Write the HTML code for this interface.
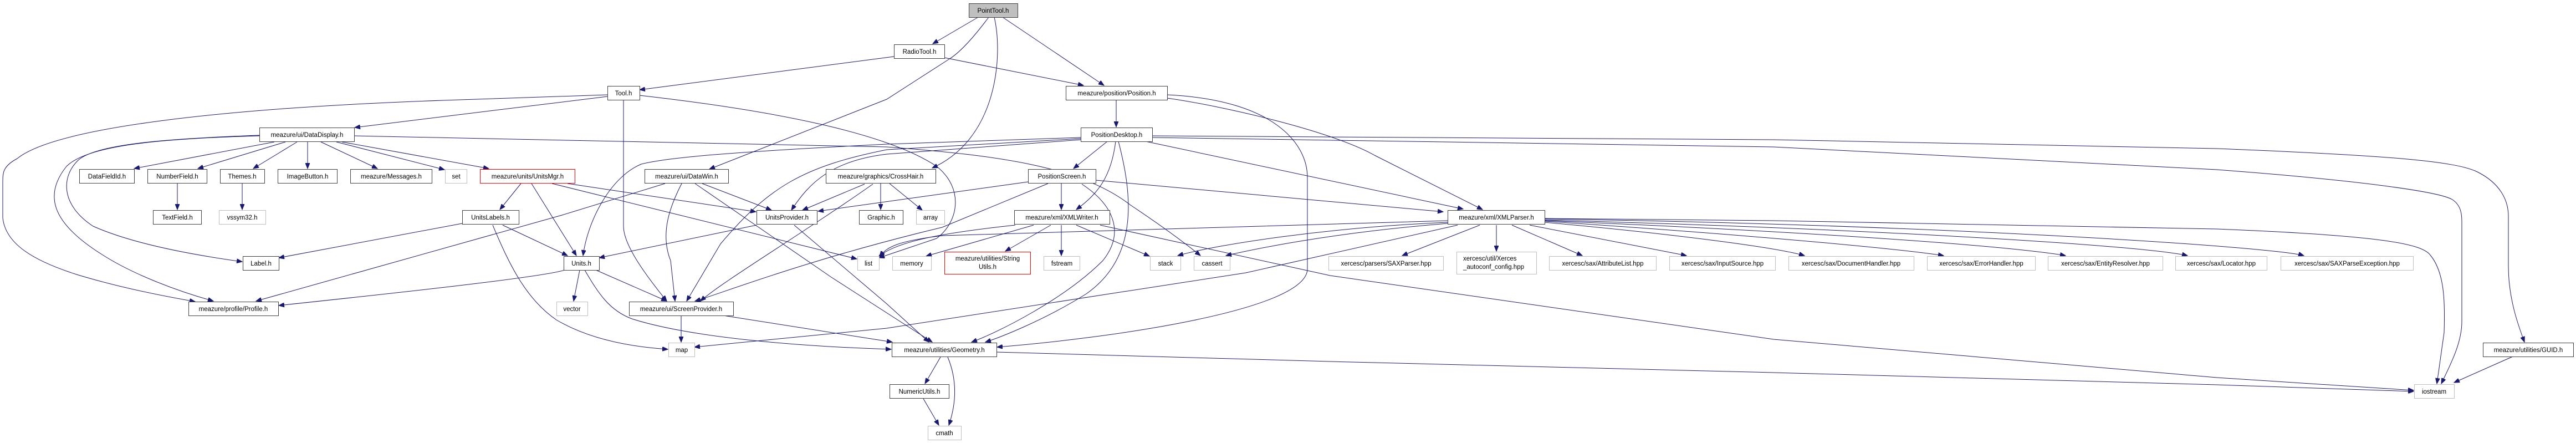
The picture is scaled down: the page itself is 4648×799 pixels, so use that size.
<!DOCTYPE html>
<html><head><meta charset="utf-8"><style>
html,body{margin:0;padding:0;background:#fff;}
svg{display:block;}
text{font-family:"Liberation Sans",Arial,sans-serif;font-size:11.5px;fill:#000;}
.e{fill:none;stroke:#191970;stroke-width:1;}
.n{fill:#fff;stroke:#404040;stroke-width:1;}
.g{fill:#fff;stroke:#bfbfbf;stroke-width:1;}
.r{fill:#fff;stroke:#ff0000;stroke-width:1;}
.p{fill:#bfbfbf;stroke:#404040;stroke-width:1;}
</style></head><body>
<svg width="4648" height="799" viewBox="0 0 4648 799" xmlns="http://www.w3.org/2000/svg">
<defs><marker id="a" markerWidth="11" markerHeight="8" refX="10" refY="4" orient="auto" markerUnits="userSpaceOnUse"><path d="M0,0 L10,4 L0,8 z" fill="#191970" stroke="#191970"/></marker></defs>
<g class="e" marker-end="url(#a)">
<path d="M1765,31 L1683,79"/>
<path d="M1809,31 L1992,154"/>
<path d="M1784,31 Q1740,90 1712,107 L1600,179 L1280,305"/>
<path d="M1794,31 C1810,100 1800,250 1682,303"/>
<path d="M1613,102 L1154,162"/>
<path d="M1704,104 L1955,154"/>
<path d="M1096,174 L640,230"/>
<path d="M1096,171 L800,181 C400,195 100,230 31,286 C5,300 5,311 5,330 L5,393 C10,440 60,470 138,495 C220,520 300,535 352,544"/>
<path d="M1125,181 L1125,408 C1125,440 1160,490 1203,543"/>
<path d="M1154,172 C1400,200 1600,240 1690,300 C1740,340 1730,400 1690,430 L1586,465"/>
<path d="M2014,180 L2014,229"/>
<path d="M2106,177 C2200,190 2400,235 2480,280 L2675,378"/>
<path d="M2106,171 C2300,180 2359,260 2359,320 L2359,485 C2359,560 2000,610 1799,626"/>
<path d="M1998,255 L1937,304"/>
<path d="M2013,255 C2005,320 1980,350 1942,378"/>
<path d="M2018,255 C2040,340 2060,460 1960,530 C1880,580 1800,610 1778,617"/>
<path d="M2067,255 L2640,377"/>
<path d="M2079,245 L3200,252 L4000,268 C4300,280 4430,290 4470,310 C4510,330 4526,360 4526,390 L4526,480 C4526,540 4545,590 4555,617"/>
<path d="M2079,248 L3200,265 L4000,306 C4250,325 4400,345 4425,360 C4440,370 4442,385 4442,400 L4442,580 C4442,620 4420,660 4405,692"/>
<path d="M1950,248 L1600,260 C1300,275 1200,285 1157,296 C1100,320 1060,400 1052,461"/>
<path d="M1950,250 L1600,270 C1450,300 1387,337 1300,440 L1239,543"/>
<path d="M1950,252 L1600,278 C1500,290 1460,330 1428,379"/>
<path d="M639,245 L1600,265 C1800,280 1950,300 2040,370 C2100,410 2140,440 2166,461"/>
<path d="M468,244 C300,250 170,260 140,290 C110,320 110,370 168,408 C240,440 350,460 437,472"/>
<path d="M468,245 C300,250 160,260 120,300 C80,350 90,400 184,459 C240,495 320,525 385,543"/>
<path d="M495,256 L242,304"/>
<path d="M515,256 L357,304"/>
<path d="M536,256 L457,304"/>
<path d="M555,256 L555,304"/>
<path d="M579,256 L681,304"/>
<path d="M607,256 L802,306"/>
<path d="M617,256 L882,304"/>
<path d="M320,331 L320,378"/>
<path d="M437,331 L437,378"/>
<path d="M940,331 L902,378"/>
<path d="M959,331 L1040,461"/>
<path d="M996,331 L1546,467"/>
<path d="M1024,331 L1364,382"/>
<path d="M834,403 L503,465"/>
<path d="M907,406 L1024,461"/>
<path d="M889,406 C920,480 950,540 1004,577 C1060,610 1130,625 1205,630"/>
<path d="M1365,406 L1081,465"/>
<path d="M1433,406 L1600,548 L1676,617"/>
<path d="M1046,487 L1035,543"/>
<path d="M1075,487 L1203,543"/>
<path d="M1055,487 C1080,530 1100,560 1140,575 C1250,610 1450,625 1608,630"/>
<path d="M1019,487 C980,500 700,530 503,551"/>
<path d="M1229,569 L1229,617"/>
<path d="M1305,569 L1610,617"/>
<path d="M1267,331 L1392,379"/>
<path d="M1230,331 C1210,370 1190,420 1210,470 L1218,543"/>
<path d="M1254,331 L1500,500 L1682,617"/>
<path d="M1200,331 L1014,388 L462,543"/>
<path d="M1560,332 L1448,379"/>
<path d="M1589,331 L1589,378"/>
<path d="M1575,332 C1450,420 1300,510 1264,543"/>
<path d="M1605,331 L1664,379"/>
<path d="M1855,328 L1476,381"/>
<path d="M1891,331 L1700,410 C1450,470 1300,530 1254,543"/>
<path d="M1952,332 C2010,370 2030,420 1990,470 C1920,540 1800,600 1753,617"/>
<path d="M1915,331 L1915,378"/>
<path d="M1977,325 L2604,382"/>
<path d="M1865,406 L1671,462"/>
<path d="M1896,406 L1814,453"/>
<path d="M1915,406 L1915,461"/>
<path d="M1942,406 L2074,462"/>
<path d="M1832,406 C1700,420 1620,435 1586,462"/>
<path d="M1985,406 L2400,497 L3200,612 L4000,681 L4355,704"/>
<path d="M2670,406 L2530,461"/>
<path d="M2700,406 L2700,453"/>
<path d="M2728,406 L2855,461"/>
<path d="M2760,406 L3043,461"/>
<path d="M2787,401 C3000,420 3200,445 3256,461"/>
<path d="M2787,399 C3100,420 3400,445 3507,461"/>
<path d="M2787,398 C3200,415 3600,440 3727,461"/>
<path d="M2787,397 C3300,410 3850,440 3947,461"/>
<path d="M2787,395 C3500,405 4100,445 4157,461"/>
<path d="M2787,394 L3200,398 L4000,413 C4300,425 4370,440 4385,460 C4410,490 4412,540 4410,600 L4397,692"/>
<path d="M2612,401 C2400,410 2200,440 2125,461"/>
<path d="M2612,403 C2400,420 2260,450 2212,461"/>
<path d="M2612,398 L1700,425 C1620,435 1600,445 1587,463"/>
<path d="M2630,406 L2248,492 L1600,592 L1253,626"/>
<path d="M1798,635 L2400,652 L3200,672 L4000,694 L4355,706"/>
<path d="M1697,644 L1669,692"/>
<path d="M1710,644 C1725,680 1728,720 1712,767"/>
<path d="M1666,719 L1694,767"/>
<path d="M4534,643 L4428,690"/>
</g>
<g>
<rect class="p" x="1748.5" y="6.5" width="88" height="25"/><text x="1792" y="23" text-anchor="middle">PointTool.h</text>
<rect class="n" x="1613.5" y="80.5" width="91" height="25"/><text x="1659" y="97" text-anchor="middle">RadioTool.h</text>
<rect class="n" x="1096.5" y="155.5" width="58" height="25"/><text x="1125" y="172" text-anchor="middle">Tool.h</text>
<rect class="n" x="1923.5" y="155.5" width="183" height="25"/><text x="2015" y="172" text-anchor="middle">meazure/position/Position.h</text>
<rect class="n" x="468.5" y="230.5" width="171" height="25"/><text x="554" y="247" text-anchor="middle">meazure/ui/DataDisplay.h</text>
<rect class="n" x="1950.5" y="230.5" width="129" height="25"/><text x="2015" y="247" text-anchor="middle">PositionDesktop.h</text>
<rect class="n" x="143.5" y="305.5" width="99" height="25"/><text x="193" y="322" text-anchor="middle">DataFieldId.h</text>
<rect class="n" x="266.5" y="305.5" width="107" height="25"/><text x="320" y="322" text-anchor="middle">NumberField.h</text>
<rect class="n" x="397.5" y="305.5" width="80" height="25"/><text x="437" y="322" text-anchor="middle">Themes.h</text>
<rect class="n" x="501.5" y="305.5" width="107" height="25"/><text x="555" y="322" text-anchor="middle">ImageButton.h</text>
<rect class="n" x="632.5" y="305.5" width="147" height="25"/><text x="706" y="322" text-anchor="middle">meazure/Messages.h</text>
<rect class="g" x="803.5" y="305.5" width="39" height="25"/><text x="823" y="322" text-anchor="middle">set</text>
<rect class="r" x="866.5" y="305.5" width="171" height="25"/><text x="952" y="322" text-anchor="middle">meazure/units/UnitsMgr.h</text>
<rect class="n" x="1163.5" y="305.5" width="151" height="25"/><text x="1239" y="322" text-anchor="middle">meazure/ui/DataWin.h</text>
<rect class="n" x="1490.5" y="305.5" width="198" height="25"/><text x="1589" y="322" text-anchor="middle">meazure/graphics/CrossHair.h</text>
<rect class="n" x="1855.5" y="305.5" width="122" height="25"/><text x="1916" y="322" text-anchor="middle">PositionScreen.h</text>
<rect class="n" x="276.5" y="379.5" width="87" height="25"/><text x="320" y="396" text-anchor="middle">TextField.h</text>
<rect class="g" x="395.5" y="379.5" width="84" height="25"/><text x="437" y="396" text-anchor="middle">vssym32.h</text>
<rect class="n" x="834.5" y="379.5" width="102" height="25"/><text x="885" y="396" text-anchor="middle">UnitsLabels.h</text>
<rect class="n" x="1365.5" y="379.5" width="109" height="25"/><text x="1420" y="396" text-anchor="middle">UnitsProvider.h</text>
<rect class="n" x="1550.5" y="379.5" width="79" height="25"/><text x="1590" y="396" text-anchor="middle">Graphic.h</text>
<rect class="g" x="1653.5" y="379.5" width="51" height="25"/><text x="1679" y="396" text-anchor="middle">array</text>
<rect class="n" x="1830.5" y="379.5" width="172" height="25"/><text x="1916" y="396" text-anchor="middle">meazure/xml/XMLWriter.h</text>
<rect class="n" x="2612.5" y="379.5" width="175" height="25"/><text x="2700" y="396" text-anchor="middle">meazure/xml/XMLParser.h</text>
<rect class="n" x="438.5" y="462.5" width="65" height="25"/><text x="471" y="479" text-anchor="middle">Label.h</text>
<rect class="n" x="1017.5" y="462.5" width="64" height="25"/><text x="1049" y="479" text-anchor="middle">Units.h</text>
<rect class="g" x="1547.5" y="462.5" width="39" height="25"/><text x="1567" y="479" text-anchor="middle">list</text>
<rect class="g" x="1610.5" y="462.5" width="70" height="25"/><text x="1645" y="479" text-anchor="middle">memory</text>
<rect class="r" x="1704.5" y="454.5" width="155" height="40"/><text x="1782" y="470" text-anchor="middle">meazure/utilities/String</text><text x="1782" y="485" text-anchor="middle">Utils.h</text>
<rect class="g" x="1883.5" y="462.5" width="65" height="25"/><text x="1916" y="479" text-anchor="middle">fstream</text>
<rect class="g" x="2075.5" y="462.5" width="55" height="25"/><text x="2103" y="479" text-anchor="middle">stack</text>
<rect class="g" x="2154.5" y="462.5" width="65" height="25"/><text x="2187" y="479" text-anchor="middle">cassert</text>
<rect class="g" x="2397.5" y="462.5" width="207" height="25"/><text x="2501" y="479" text-anchor="middle">xercesc/parsers/SAXParser.hpp</text>
<rect class="g" x="2628.5" y="454.5" width="144" height="40"/><text x="2640" y="470">xercesc/util/Xerces</text><text x="2640" y="485">_autoconf_config.hpp</text>
<rect class="g" x="2795.5" y="462.5" width="193" height="25"/><text x="2892" y="479" text-anchor="middle">xercesc/sax/AttributeList.hpp</text>
<rect class="g" x="3012.5" y="462.5" width="191" height="25"/><text x="3108" y="479" text-anchor="middle">xercesc/sax/InputSource.hpp</text>
<rect class="g" x="3227.5" y="462.5" width="226" height="25"/><text x="3340" y="479" text-anchor="middle">xercesc/sax/DocumentHandler.hpp</text>
<rect class="g" x="3477.5" y="462.5" width="195" height="25"/><text x="3575" y="479" text-anchor="middle">xercesc/sax/ErrorHandler.hpp</text>
<rect class="g" x="3695.5" y="462.5" width="207" height="25"/><text x="3799" y="479" text-anchor="middle">xercesc/sax/EntityResolver.hpp</text>
<rect class="g" x="3925.5" y="462.5" width="165" height="25"/><text x="4008" y="479" text-anchor="middle">xercesc/sax/Locator.hpp</text>
<rect class="g" x="4115.5" y="462.5" width="239" height="25"/><text x="4235" y="479" text-anchor="middle">xercesc/sax/SAXParseException.hpp</text>
<rect class="n" x="340.5" y="544.5" width="162" height="25"/><text x="421" y="561" text-anchor="middle">meazure/profile/Profile.h</text>
<rect class="g" x="1004.5" y="544.5" width="56" height="25"/><text x="1032" y="561" text-anchor="middle">vector</text>
<rect class="n" x="1135.5" y="544.5" width="188" height="25"/><text x="1229" y="561" text-anchor="middle">meazure/ui/ScreenProvider.h</text>
<rect class="g" x="1206.5" y="618.5" width="47" height="25"/><text x="1230" y="635" text-anchor="middle">map</text>
<rect class="n" x="1609.5" y="618.5" width="189" height="25"/><text x="1704" y="635" text-anchor="middle">meazure/utilities/Geometry.h</text>
<rect class="n" x="4480.5" y="618.5" width="163" height="25"/><text x="4562" y="635" text-anchor="middle">meazure/utilities/GUID.h</text>
<rect class="n" x="1605.5" y="693.5" width="107" height="25"/><text x="1659" y="710" text-anchor="middle">NumericUtils.h</text>
<rect class="g" x="4356.5" y="693.5" width="72" height="25"/><text x="4392" y="710" text-anchor="middle">iostream</text>
<rect class="g" x="1674.5" y="768.5" width="60" height="25"/><text x="1704" y="785" text-anchor="middle">cmath</text>
</g>
</svg>
</body></html>
